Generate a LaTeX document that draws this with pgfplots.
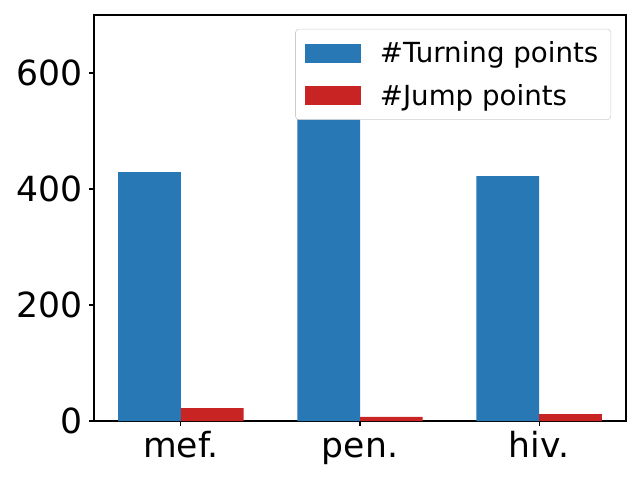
\documentclass[border=0pt]{standalone}
\usepackage{pgfplots}
\pgfplotsset{compat=1.18}
\usepackage{fontspec}
\setmainfont{DejaVu Sans}
\definecolor{cblue}{HTML}{2878B5}
\definecolor{cred}{HTML}{C82423}
\definecolor{legframe}{HTML}{CCCCCC}

\begin{document}
\begin{tikzpicture}
\path (0,0) rectangle (6.4in,4.8in);
\begin{axis}[
  at={(0.94in,0.59in)}, anchor=south west,
  width=5.32in, height=4.06in,
  scale only axis,
  xmin=-0.485, xmax=2.485,
  ymin=0, ymax=700,
  xtick={0,1,2},
  xticklabels={mef.,pen.,hiv.},
  ytick={0,200,400,600},
  tick align=outside, tick pos=left,
  major tick length=3.5pt,
  tick style={line width=0.8pt, black},
  axis line style={line width=0.8pt},
  ticklabel style={font=\fontsize{25}{29}\selectfont},
  yticklabel style={xshift=-1pt},
  xticklabel style={text height=19pt, text depth=5pt},
  /pgf/number format/assume math mode=true,
  ybar, bar width=0.35,
  legend cell align=left,
  legend image code/.code={\fill[#1, sharp corners] (0pt,-6.8pt) rectangle (40pt,6.8pt);},
  legend style={at={(1,1)}, anchor=north east, xshift=-10.8pt, yshift=-10pt,
    draw=legframe, rounded corners=2.5pt, fill=white,
    font=\fontsize{20}{24}\selectfont,
    inner xsep=7pt, inner ysep=7pt, row sep=10pt,
    /tikz/every odd column/.append style={column sep=12pt}},
]
\addplot[fill=cblue, draw=none, bar shift=-0.175] coordinates {(0,429) (1,560) (2,422)};
\addlegendentry{\#Turning points}
\addplot[fill=cred, draw=none, bar shift=0.175] coordinates {(0,22) (1,7) (2,12)};
\addlegendentry{\#Jump points}
\end{axis}
\end{tikzpicture}
\end{document}
